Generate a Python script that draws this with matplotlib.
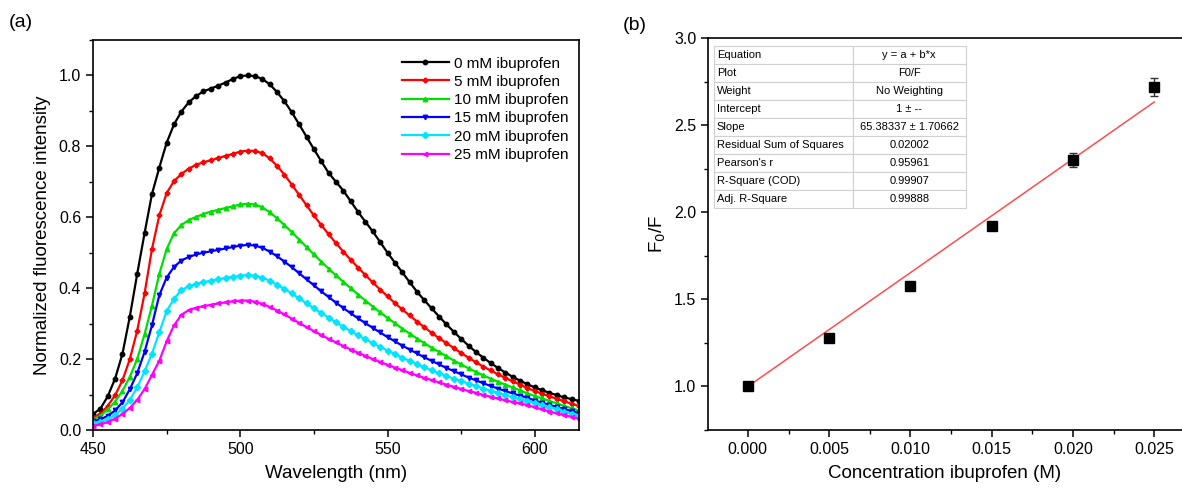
import numpy as np
import matplotlib
matplotlib.use("Agg")
import matplotlib.pyplot as plt
from matplotlib.ticker import MultipleLocator

plt.rcParams['font.family'] = ['Liberation Sans', 'DejaVu Sans']

# ---------------- data: panel (a) ----------------
wavelength = [450, 452.5, 455, 457.5, 460, 462.5, 465, 467.5, 470, 472.5,
              475, 477.5, 480, 482.5, 485, 487.5, 490, 492.5, 495, 497.5,
              500, 502.5, 505, 507.5, 510, 512.5, 515, 517.5, 520, 522.5,
              525, 527.5, 530, 532.5, 535, 537.5, 540, 542.5, 545, 547.5,
              550, 552.5, 555, 557.5, 560, 562.5, 565, 567.5, 570, 572.5,
              575, 577.5, 580, 582.5, 585, 587.5, 590, 592.5, 595, 597.5,
              600, 602.5, 605, 607.5, 610, 612.5, 615]

int_0mM = [0.045, 0.060, 0.095, 0.145, 0.215, 0.320, 0.440, 0.555, 0.665, 0.740,
           0.810, 0.862, 0.898, 0.924, 0.942, 0.955, 0.963, 0.971, 0.980, 0.990,
           0.998, 1.000, 0.998, 0.990, 0.975, 0.953, 0.927, 0.896, 0.862, 0.827,
           0.792, 0.758, 0.725, 0.700, 0.675, 0.645, 0.615, 0.587, 0.560, 0.530,
           0.500, 0.472, 0.445, 0.417, 0.390, 0.366, 0.343, 0.320, 0.298, 0.277,
           0.257, 0.238, 0.220, 0.204, 0.189, 0.175, 0.162, 0.150, 0.139, 0.129,
           0.120, 0.112, 0.105, 0.098, 0.092, 0.087, 0.082]
int_5mM = [0.035, 0.045, 0.068, 0.098, 0.140, 0.200, 0.280, 0.385, 0.510, 0.605,
           0.668, 0.702, 0.722, 0.737, 0.748, 0.755, 0.761, 0.767, 0.773, 0.779,
           0.785, 0.788, 0.787, 0.781, 0.766, 0.745, 0.720, 0.692, 0.663, 0.634,
           0.605, 0.578, 0.552, 0.527, 0.503, 0.480, 0.458, 0.437, 0.416, 0.396,
           0.377, 0.358, 0.340, 0.323, 0.306, 0.290, 0.274, 0.259, 0.245, 0.231,
           0.217, 0.204, 0.191, 0.179, 0.168, 0.157, 0.147, 0.137, 0.128, 0.118,
           0.110, 0.102, 0.095, 0.088, 0.081, 0.074, 0.068]
int_10mM = [0.030, 0.040, 0.058, 0.080, 0.110, 0.150, 0.200, 0.270, 0.350, 0.440,
            0.510, 0.555, 0.578, 0.592, 0.601, 0.609, 0.616, 0.621, 0.626, 0.631,
            0.636, 0.638, 0.636, 0.628, 0.614, 0.597, 0.578, 0.558, 0.537, 0.516,
            0.495, 0.475, 0.455, 0.436, 0.418, 0.400, 0.382, 0.365, 0.348, 0.332,
            0.316, 0.301, 0.286, 0.272, 0.258, 0.245, 0.232, 0.220, 0.208, 0.196,
            0.185, 0.174, 0.164, 0.154, 0.145, 0.136, 0.128, 0.120, 0.112, 0.103,
            0.096, 0.089, 0.082, 0.075, 0.068, 0.061, 0.055]
int_15mM = [0.025, 0.030, 0.040, 0.055, 0.078, 0.115, 0.160, 0.220, 0.295, 0.380,
            0.430, 0.460, 0.478, 0.488, 0.495, 0.500, 0.504, 0.508, 0.512, 0.516,
            0.520, 0.522, 0.520, 0.514, 0.503, 0.490, 0.475, 0.459, 0.442, 0.425,
            0.408, 0.391, 0.375, 0.359, 0.344, 0.329, 0.315, 0.301, 0.288, 0.275,
            0.262, 0.250, 0.238, 0.227, 0.216, 0.205, 0.195, 0.185, 0.175, 0.166,
            0.157, 0.148, 0.140, 0.132, 0.124, 0.117, 0.110, 0.103, 0.097, 0.091,
            0.083, 0.077, 0.071, 0.065, 0.059, 0.053, 0.048]
int_20mM = [0.020, 0.022, 0.030, 0.042, 0.060, 0.085, 0.120, 0.165, 0.215, 0.275,
            0.335, 0.370, 0.395, 0.405, 0.412, 0.417, 0.421, 0.425, 0.429, 0.432,
            0.435, 0.437, 0.435, 0.430, 0.421, 0.410, 0.398, 0.385, 0.371, 0.357,
            0.343, 0.330, 0.317, 0.304, 0.291, 0.279, 0.267, 0.256, 0.245, 0.234,
            0.224, 0.214, 0.204, 0.195, 0.186, 0.177, 0.168, 0.160, 0.152, 0.145,
            0.138, 0.131, 0.124, 0.117, 0.111, 0.105, 0.099, 0.093, 0.088, 0.083,
            0.076, 0.070, 0.064, 0.058, 0.052, 0.046, 0.040]
int_25mM = [0.012, 0.016, 0.022, 0.032, 0.045, 0.062, 0.085, 0.115, 0.155, 0.195,
            0.250, 0.295, 0.325, 0.338, 0.345, 0.349, 0.353, 0.357, 0.360, 0.363,
            0.365, 0.365, 0.362, 0.356, 0.347, 0.337, 0.326, 0.314, 0.302, 0.290,
            0.279, 0.268, 0.257, 0.247, 0.237, 0.227, 0.218, 0.209, 0.200, 0.192,
            0.184, 0.176, 0.169, 0.161, 0.154, 0.147, 0.141, 0.134, 0.128, 0.122,
            0.116, 0.110, 0.105, 0.099, 0.094, 0.089, 0.084, 0.079, 0.075, 0.070,
            0.064, 0.058, 0.052, 0.047, 0.042, 0.037, 0.032]

series_labels = ["0 mM ibuprofen", "5 mM ibuprofen", "10 mM ibuprofen",
                 "15 mM ibuprofen", "20 mM ibuprofen", "25 mM ibuprofen"]
series_values = [int_0mM, int_5mM, int_10mM, int_15mM, int_20mM, int_25mM]
series_colors = ["#000000", "#ff0000", "#00e000", "#0000ff", "#00e5ff", "#ff00ff"]
series_markers = ["o", "P", "^", "v", "D", "<"]

# ---------------- data: panel (b) ----------------
conc = [0.000, 0.005, 0.010, 0.015, 0.020, 0.025]
f0f = [1.00, 1.28, 1.58, 1.92, 2.30, 2.72]
f0f_err = [0.01, 0.01, 0.01, 0.01, 0.04, 0.05]
fit_intercept = 1.0
fit_slope = 65.38337

table_rows = [["Equation", "y = a + b*x"],
              ["Plot", "F0/F"],
              ["Weight", "No Weighting"],
              ["Intercept", "1 \u00b1 --"],
              ["Slope", "65.38337 \u00b1 1.70662"],
              ["Residual Sum of Squares", "0.02002"],
              ["Pearson's r", "0.95961"],
              ["R-Square (COD)", "0.99907"],
              ["Adj. R-Square", "0.99888"]]

# ---------------- figure ----------------
fig = plt.figure(figsize=(11.82, 4.93), dpi=100)

axa = fig.add_axes([0.0787, 0.1278, 0.4111, 0.7911])
for vals, lab, col, mk in zip(series_values, series_labels, series_colors, series_markers):
    axa.plot(wavelength, vals, color=col, lw=1.6, marker=mk, ms=3.2,
             mec=col, mfc=col, label=lab)
axa.set_xlim(450, 615)
axa.set_ylim(0.0, 1.1)
axa.xaxis.set_major_locator(MultipleLocator(50))
axa.xaxis.set_minor_locator(MultipleLocator(25))
axa.yaxis.set_minor_locator(MultipleLocator(0.1))
axa.set_yticks([0.0, 0.2, 0.4, 0.6, 0.8, 1.0])
axa.tick_params(which='major', direction='out', length=5, width=1.1, labelsize=11.5)
axa.tick_params(which='minor', direction='out', length=3, width=1.0)
axa.set_xlabel("Wavelength (nm)", fontsize=13.5, labelpad=6)
axa.set_ylabel("Normalized fluorescence intensity", fontsize=13.5, labelpad=6)
for s in axa.spines.values():
    s.set_linewidth(1.2)
leg = axa.legend(loc='upper right', frameon=False, fontsize=11,
                 handlelength=3.1, handletextpad=0.3, labelspacing=0.28,
                 borderaxespad=0.3, bbox_to_anchor=(1.0, 0.985))
fig.text(0.007, 0.945, "(a)", fontsize=14)

# ---------------- panel (b) ----------------
axb = fig.add_axes([0.599, 0.1278, 0.401, 0.7945])
fit_x = [conc[0], conc[-1]]
fit_y = [fit_intercept + fit_slope * c for c in fit_x]
axb.plot(fit_x, fit_y, color="#ff4d4d", lw=1.1, zorder=2)
axb.errorbar(conc, f0f, yerr=f0f_err, fmt='s', color='black', ms=7,
             ecolor='#333333', elinewidth=1, capsize=3, capthick=1, zorder=3)
axb.set_xlim(-0.00245, 0.0267)
axb.set_ylim(0.75, 3.0)
axb.xaxis.set_minor_locator(MultipleLocator(0.0025))
axb.yaxis.set_minor_locator(MultipleLocator(0.25))
axb.set_xticks([0.000, 0.005, 0.010, 0.015, 0.020, 0.025])
axb.set_xticklabels(["0.000", "0.005", "0.010", "0.015", "0.020", "0.025"])
axb.set_yticks([1.0, 1.5, 2.0, 2.5, 3.0])
axb.set_yticklabels(["1.0", "1.5", "2.0", "2.5", "3.0"])
axb.tick_params(which='major', direction='out', length=5, width=1.1, labelsize=11.5)
axb.tick_params(which='minor', direction='out', length=3, width=1.0)
axb.set_xlabel("Concentration ibuprofen (M)", fontsize=13.5, labelpad=6)
axb.set_ylabel("F$_0$/F", fontsize=13.5, labelpad=4)
for s in axb.spines.values():
    s.set_linewidth(1.2)
axb.spines['right'].set_visible(False)
fig.text(0.527, 0.94, "(b)", fontsize=14)

tbl = axb.table(cellText=table_rows, colWidths=[0.55, 0.45],
                bbox=[0.013, 0.566, 0.531, 0.414], zorder=5)
tbl.auto_set_font_size(False)
tbl.set_fontsize(8)
for (r, c), cell in tbl.get_celld().items():
    cell.set_edgecolor('#d0d0d0')
    cell.set_linewidth(0.8)
    cell.set_facecolor('white')
    if c == 0:
        cell.set_text_props(ha='left')
        cell._loc = 'left'
        cell.PAD = 0.02
    else:
        cell.set_text_props(ha='center')
        cell._loc = 'center'

fig.savefig("out.png", dpi=100)
